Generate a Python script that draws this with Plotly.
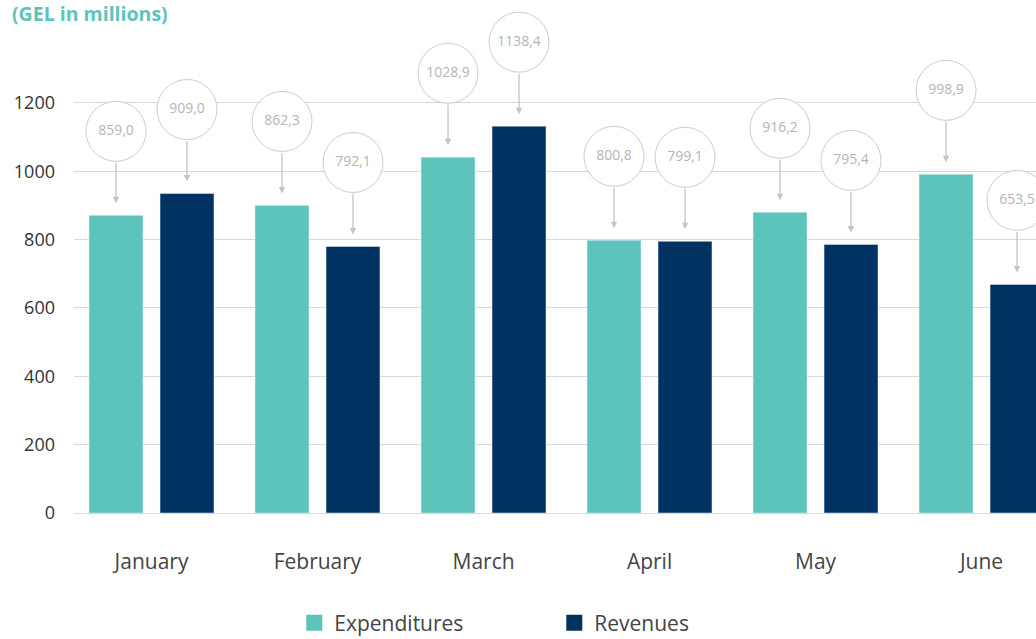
import plotly.graph_objects as go

months = ["January", "February", "March", "April", "May", "June"]
# bar heights as drawn in the reference (GEL millions)
expenditures = [871, 900, 1041, 798, 880, 991]
revenues = [935, 780, 1132, 795, 786, 669]
# values printed in the callout bubbles
exp_labels = ["859,0", "862,3", "1028,9", "800,8", "916,2", "998,9"]
rev_labels = ["909,0", "792,1", "1138,4", "799,1", "795,4", "653,5"]
y_ticks = [0, 200, 400, 600, 800, 1000, 1200]

TEAL = "#5cc4bb"
NAVY = "#003262"
GRID = "#d9d9d9"
FONT = "Open Sans"

# layout geometry
W, H = 1036, 639
ML, MR, MT, MB = 74, 0, 10, 126
Y_MAX = 1472
plot_h = H - MT - MB
px_per_unit = plot_h / Y_MAX
bubble_up = 84 / px_per_unit  # bubble centre above bar top
arrow_gap = 12 / px_per_unit  # arrow tip above bar top

x = list(range(len(months)))
bar_w = 0.325
off_e, off_r = -0.3765, 0.0512
xe = [i + off_e + bar_w / 2 for i in x]
xr = [i + off_r + bar_w / 2 for i in x]

fig = go.Figure()
fig.add_trace(go.Bar(x=x, y=expenditures, name="Expenditures", marker_color=TEAL,
                     width=bar_w, offset=off_e, hoverinfo="skip", showlegend=False))
fig.add_trace(go.Bar(x=x, y=revenues, name="Revenues", marker_color=NAVY,
                     width=bar_w, offset=off_r, hoverinfo="skip", showlegend=False))

# legend entries with larger square swatches
for name, col in [("Expenditures", TEAL), ("Revenues", NAVY)]:
    fig.add_trace(go.Scatter(x=[None], y=[None], mode="markers", name=name,
                             marker=dict(symbol="square", size=24, color=col)))

for xs, vals, labs in [(xe, expenditures, exp_labels), (xr, revenues, rev_labels)]:
    fig.add_trace(go.Scatter(
        x=xs, y=[v + bubble_up for v in vals], mode="markers+text",
        text=labs, textposition="middle center",
        textfont=dict(family=FONT, size=14, color="#b5b5b5"),
        marker=dict(symbol="circle", size=60, color="white",
                    line=dict(color="#cccccc", width=1)),
        showlegend=False, hoverinfo="skip", cliponaxis=False))
    for xi, v in zip(xs, vals):
        fig.add_annotation(x=xi, y=v + arrow_gap, xref="x", yref="y", text="",
                           showarrow=True, ax=0, ay=-42, arrowhead=2, arrowsize=1,
                           arrowwidth=1.3, arrowcolor="#c4c4c4", standoff=0)

fig.update_layout(
    width=W, height=H,
    margin=dict(l=ML, r=MR, t=MT, b=MB, autoexpand=False),
    plot_bgcolor="white", paper_bgcolor="white",
    barmode="overlay",
    font=dict(family=FONT, color="#333333"),
    title=dict(text="<b>(GEL in millions)</b>", xref="container", yref="container",
               x=12 / W, xanchor="left", y=1 - 14 / H, yanchor="middle",
               font=dict(family=FONT, size=19.5, color=TEAL)),
    xaxis=dict(range=[-0.467, 5.328], tickvals=x, ticktext=months,
               showgrid=False, zeroline=False, showline=False,
               tickfont=dict(size=21, color="#444444"), ticks="",
               ticklabelstandoff=34),
    yaxis=dict(range=[0, Y_MAX], tickvals=y_ticks, showgrid=True, gridcolor=GRID,
               gridwidth=1, zeroline=True, zerolinecolor=GRID, zerolinewidth=1,
               showline=False, ticks="", tickfont=dict(size=18, color="#333333"),
               ticklabelstandoff=18),
    legend=dict(orientation="h", x=0.229, xanchor="left", y=-0.178, yanchor="top",
                font=dict(size=21, color="#444444"), entrywidth=215,
                entrywidthmode="pixels", traceorder="normal"),
)

fig.write_html("out.html", config={"displayModeBar": False},
               post_script="document.body.style.margin='0';"
                           "document.body.style.overflow='hidden';")
